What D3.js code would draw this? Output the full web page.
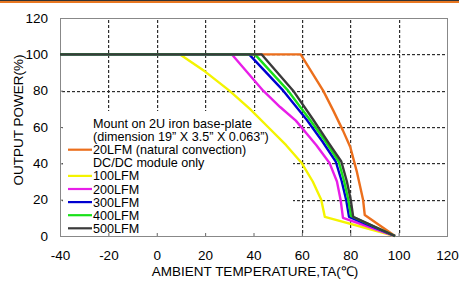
<!DOCTYPE html>
<html><head><meta charset="utf-8">
<script src="https://cdn.jsdelivr.net/npm/d3@7"></script>
<style>body{margin:0;background:#fff}svg{display:block}text{font-family:"Liberation Sans",Arial,sans-serif}</style>
</head><body><svg id="c" width="459" height="284"></svg>
<script>
const xTicks = [-40,-20,0,20,40,60,80,100,120];
const yTicks = [0,20,40,60,80,100,120];
const seriesNames = ["20LFM (natural convection)","100LFM","200LFM","300LFM","400LFM","500LFM"];
const seriesColors = ["#ec6f1c","#f4f400","#e81ee8","#0000d0","#18e018","#3a3a3a"];
const s20  = [[-40,100],[59.5,100],[68.8,80],[73,69],[77,58],[80,49],[82.8,35],[85.3,20],[86,11.5],[98.5,0]];
const s100 = [[-40,100],[9.5,100],[20,90.5],[30,80],[38.5,70],[46,60],[53.5,50],[60,40],[64.5,30],[68,20],[69.5,10.5],[98.5,0]];
const s200 = [[-40,100],[31,100],[44,80],[51,71],[57.5,63.5],[66,50],[71.5,40],[74.5,30],[76,20],[77,10],[98.5,0]];
const s300 = [[-40,100],[38.2,100],[52.3,80],[62,64],[68.5,52],[74,41],[76.5,30],[78.3,20],[79.5,10.5],[98.5,0]];
const s400 = [[-40,100],[40.6,100],[54.3,80],[63.3,64],[69.8,52],[75.2,41],[77.5,30],[79.2,20],[80.3,11],[98.5,0]];
const s500 = [[-40,100],[43.3,100],[56.4,80],[64.7,64],[71.2,51],[76.3,41],[78.6,30],[80.2,20],[81.2,10.6],[98.5,0]];
const seriesData = [s20,s100,s200,s300,s400,s500];
const legendHeader1 = ["Mount on 2U iron base-plate","(dimension 19\u201D X 3.5\u201D X 0.063\u201D)"];
const legendHeader2 = "DC/DC module only";

const svg = d3.select("#c");
const L=60,R=447,T=18,B=236;
const x = d3.scaleLinear().domain([-40,120]).range([L,R]);
const y = d3.scaleLinear().domain([0,120]).range([B,T]);

// header band
svg.append("rect").attr("x",0).attr("y",0).attr("width",459).attr("height",1).attr("fill","#333");
svg.append("rect").attr("x",0).attr("y",1).attr("width",459).attr("height",2).attr("fill","#e87722");

// grid: dotted lines built from short dashes
const gridColor = "#2e2e2e";
const grid = svg.append("g").attr("class","grid").attr("fill",gridColor);
xTicks.slice(1,-1).forEach(v=>{
  const px = Math.round(x(v));
  grid.selectAll(null).data(d3.range(T+2,B-2,5)).enter().append("rect")
   .attr("x",px).attr("y",d=>d).attr("width",1.2).attr("height",3);
});
yTicks.slice(1,-1).forEach(v=>{
  const py = Math.round(y(v));
  grid.selectAll(null).data(d3.range(L+2,R-2,5)).enter().append("rect")
   .attr("x",d=>d).attr("y",py).attr("width",3).attr("height",1.2);
});

// legend background
svg.append("rect").attr("x",63).attr("y",111).attr("width",230).attr("height",123).attr("fill","#fff");

// axes
const fmt = d=>String(d);
const ax = svg.append("g").attr("transform",`translate(0,${B})`)
 .call(d3.axisBottom(x).tickValues(xTicks).tickSize(-3).tickPadding(14).tickFormat(fmt));
const ay = svg.append("g").attr("transform",`translate(${L},0)`)
 .call(d3.axisLeft(y).tickValues(yTicks).tickSize(-3).tickPadding(12).tickFormat(fmt));
[ax,ay].forEach(a=>{a.select(".domain").remove();a.selectAll("line").attr("stroke","#666");
 a.selectAll("text").attr("font-size",13.5).attr("fill","#000").style("font-family","Liberation Sans, Arial, sans-serif");});
svg.append("rect").attr("x",L+0.5).attr("y",T+0.5).attr("width",R-L).attr("height",B-T)
 .attr("fill","none").attr("stroke","#888");

// curves
const line = d3.line().x(d=>x(d[0])).y(d=>y(d[1]));
seriesData.forEach((s,i)=>{
 svg.append("path").datum(s).attr("d",line).attr("fill","none")
  .attr("stroke",seriesColors[i]).attr("stroke-width",2.4).attr("stroke-linejoin","round");
});

// legend
const lg = svg.append("g");
const fs=12.6, lh=13.1, tx=93, ty0=128;
let rowY = ty0;
legendHeader1.forEach(t=>{lg.append("text").attr("x",tx).attr("y",rowY).attr("font-size",fs).text(t); rowY+=lh;});
const rows = [{name:seriesNames[0],c:seriesColors[0]},{header:legendHeader2}]
 .concat(seriesNames.slice(1).map((n,i)=>({name:n,c:seriesColors[i+1]})));
rows.forEach(r=>{
 if(r.c){lg.append("line").attr("x1",68).attr("x2",92).attr("y1",rowY-4.5).attr("y2",rowY-4.5)
   .attr("stroke",r.c).attr("stroke-width",2.2);}
 lg.append("text").attr("x",tx).attr("y",rowY).attr("font-size",fs).text(r.name||r.header);
 rowY+=lh;
});

// axis titles
svg.append("text").attr("x",255).attr("y",276).attr("text-anchor","middle").attr("font-size",13.5)
 .text("AMBIENT TEMPERATURE,TA(\u2103)");
svg.append("text").attr("transform","translate(23,120) rotate(-90)").attr("text-anchor","middle").attr("font-size",13.5)
 .text("OUTPUT POWER(%)");
</script></body></html>
